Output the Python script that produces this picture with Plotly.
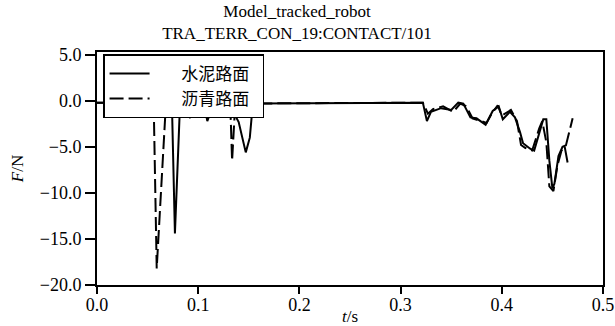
import plotly.graph_objects as go

# 水泥路面 (solid)
t_cement = [0.0, 0.074, 0.077, 0.082, 0.087, 0.092, 0.100, 0.105, 0.109, 0.117, 0.124,
            0.131, 0.136, 0.140, 0.147, 0.151, 0.154, 0.322,
            0.326, 0.330, 0.340, 0.350, 0.357, 0.362, 0.369, 0.375, 0.384, 0.391,
            0.397, 0.401, 0.408, 0.413, 0.418, 0.421, 0.428, 0.432, 0.441, 0.444,
            0.447, 0.450, 0.452, 0.456, 0.460, 0.462, 0.465]
f_cement = [-0.2, -0.2, -14.4, -0.5, -0.2, -1.8, -1.4, 0.1, -2.2, 0.3, 0.0,
            -1.3, -1.5, -2.3, -5.6, -4.0, -0.3, -0.2,
            -2.2, -1.2, -0.8, -1.0, -0.2, -0.3, -1.8, -1.9, -2.6, -1.1,
            -0.6, -2.0, -1.2, -1.8, -3.4, -4.6, -5.2, -5.4, -2.0, -2.0,
            -6.5, -9.5, -9.0, -6.0, -5.0, -4.9, -6.7]

# 沥青路面 (dashed)
t_asphalt = [0.0, 0.056, 0.059, 0.068, 0.100, 0.110, 0.118, 0.125, 0.130, 0.132,
             0.1335, 0.136, 0.139, 0.322,
             0.327, 0.332, 0.342, 0.352, 0.359, 0.365, 0.371, 0.377, 0.385, 0.390,
             0.396, 0.400, 0.409, 0.415, 0.419, 0.423, 0.430, 0.437, 0.440, 0.444,
             0.447, 0.451, 0.455, 0.459, 0.463, 0.470]
f_asphalt = [-0.2, -0.2, -18.2, -0.5, -0.2, -0.3, 0.5, 0.3, -0.8, -1.5,
             -6.5, -1.5, -0.3, -0.2,
             -1.4, -0.9, -0.6, -1.2, -0.3, -0.6, -1.9, -2.1, -2.4, -1.4,
             -0.5, -1.6, -1.0, -2.2, -4.8, -5.1, -5.4, -3.0, -2.2, -4.5,
             -9.3, -9.8, -7.0, -5.4, -5.0, -1.9]

x_ticks = [0.0, 0.1, 0.2, 0.3, 0.4, 0.5]
y_ticks = [5.0, 0.0, -5.0, -10.0, -15.0, -20.0]

serif = "Liberation Serif, Times New Roman, serif"
cjk = "Noto Sans CJK SC"
nb = "\u00a0" * 7
nb_end = "\u00a0" * 2

fig = go.Figure()
fig.add_trace(go.Scatter(x=t_cement, y=f_cement, mode="lines", name=nb + "水泥路面" + nb_end,
                         line=dict(color="black", width=2)))
fig.add_trace(go.Scatter(x=t_asphalt, y=f_asphalt, mode="lines", name=nb + "沥青路面" + nb_end,
                         line=dict(color="black", width=2, dash="14px,5px")))

fig.update_layout(
    width=615, height=326,
    margin=dict(l=97, r=12, t=52, b=41, autoexpand=False),
    paper_bgcolor="white", plot_bgcolor="white",
    title=dict(text="Model_tracked_robot<br>TRA_TERR_CON_19:CONTACT/101",
               x=297 / 615, xanchor="center", xref="container",
               y=1 - 17 / 326, yanchor="middle", yref="container",
               font=dict(family=serif, size=17, color="black")),
    legend=dict(x=0.012, y=0.99, xanchor="left", yanchor="top",
                bgcolor="white", bordercolor="black", borderwidth=1.5,
                font=dict(family=cjk, size=17, color="black"),
                itemwidth=40, tracegroupgap=0),
    showlegend=True,
)
fig.update_xaxes(range=[0, 0.5], tickvals=x_ticks, tickformat=".1f",
                 showgrid=False, zeroline=False, automargin=False,
                 showline=True, linecolor="black", linewidth=2, mirror=True,
                 ticks="outside", ticklen=7, tickwidth=2, tickcolor="black",
                 ticklabelstandoff=-5,
                 tickfont=dict(family=serif, size=18, color="black"),
                 title=dict(text="<i>t</i>/s", standoff=0,
                            font=dict(family=serif, size=17, color="black")))
fig.update_yaxes(range=[-20, 5.3], tickvals=y_ticks, tickformat=".1f",
                 showgrid=False, zeroline=False, automargin=False,
                 showline=True, linecolor="black", linewidth=2, mirror=True,
                 ticks="outside", ticklen=10, tickwidth=2, tickcolor="black",
                 tickfont=dict(family=serif, size=18, color="black"),
                 title=dict(text="<i>F</i>/N", standoff=12,
                            font=dict(family=serif, size=17, color="black")))

fig.write_html("out.html")
